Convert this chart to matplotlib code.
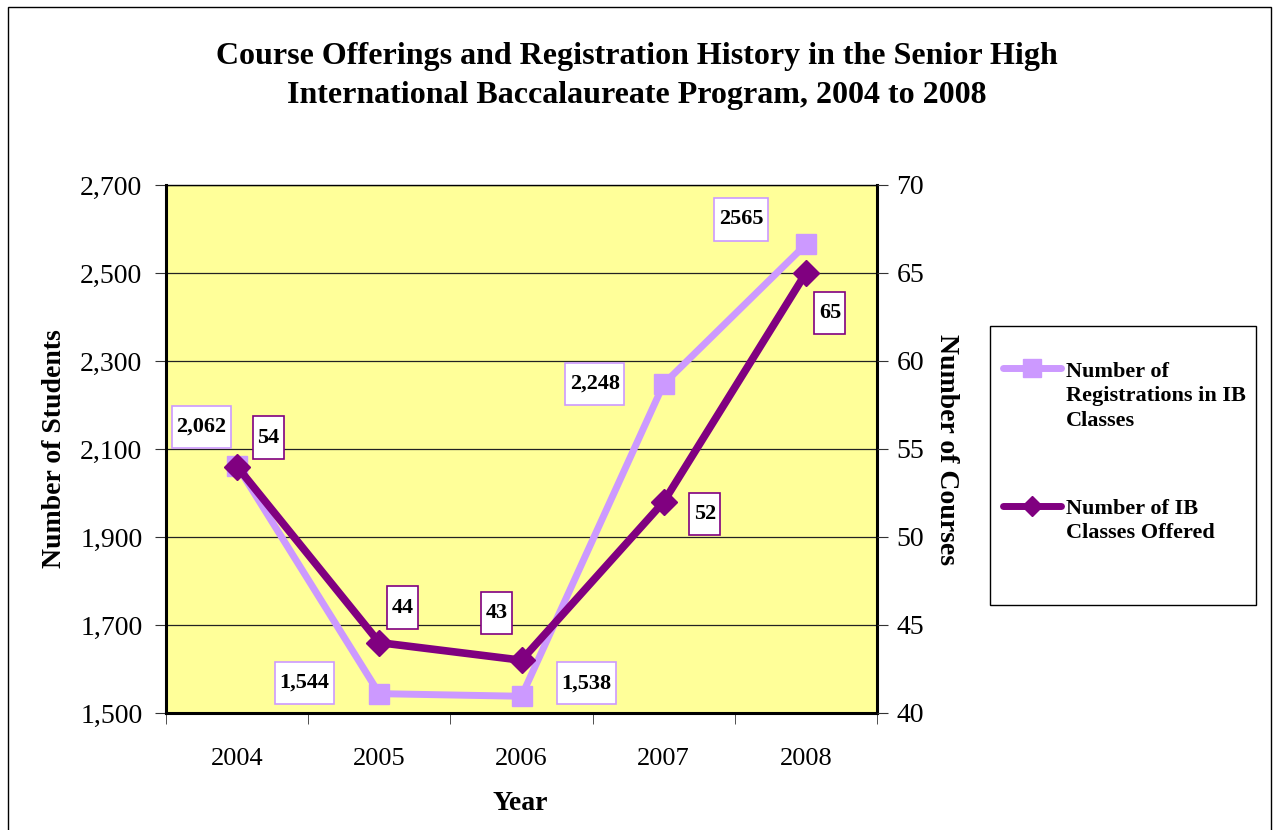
import matplotlib
matplotlib.use("Agg")
import matplotlib.pyplot as plt
from matplotlib.lines import Line2D
from matplotlib.patches import Rectangle
from matplotlib.path import Path
from matplotlib.ticker import FuncFormatter

plt.rcParams['font.family'] = ['Liberation Serif', 'DejaVu Serif']

years = ['2004', '2005', '2006', '2007', '2008']
registrations = [2062, 1544, 1538, 2248, 2565]
reg_labels = ['2,062', '1,544', '1,538', '2,248', '2565']
classes = [54, 44, 43, 52, 65]
class_labels = ['54', '44', '43', '52', '65']
left_ticks = [1500, 1700, 1900, 2100, 2300, 2500, 2700]
right_ticks = [40, 45, 50, 55, 60, 65, 70]

title = ('Course Offerings and Registration History in the Senior High\n'
         'International Baccalaureate Program, 2004 to 2008')
reg_name = 'Number of\nRegistrations in IB\nClasses'
class_name = 'Number of IB\nClasses Offered'

reg_color = '#CC99FF'
class_color = '#800080'

W, H = 1273, 830
fig = plt.figure(figsize=(W / 100, H / 100), dpi=100)
fig.patch.set_facecolor('white')


def px(xp, yp):
    return xp / W, 1 - yp / H


# outer frame
fig.patches.append(Rectangle((8 / W, -0.02), (1271 - 8) / W, 1 - 7 / H + 0.02,
                             transform=fig.transFigure, fill=False,
                             edgecolor='black', lw=1.0))

ax = fig.add_axes([166 / W, 1 - 713 / H, (877 - 166) / W, (713 - 185) / H])
ax.set_facecolor('#FFFF99')
x = list(range(len(years)))

ax.set_xlim(-0.5, len(years) - 0.5)
ax.set_ylim(left_ticks[0], left_ticks[-1])
ax.set_yticks(left_ticks)
ax.yaxis.set_major_formatter(FuncFormatter(lambda v, p: f'{int(v):,}'))
ax.grid(axis='y', color='#222222', lw=0.9)
ax.set_axisbelow(True)

ax.set_xticks(x)
ax.set_xticklabels(years, fontsize=19)
ax.set_xticks([i - 0.5 for i in range(len(years) + 1)], minor=True)
ax.tick_params(axis='x', which='major', length=0, pad=25)
ax.tick_params(axis='x', which='minor', length=8, direction='out', color='#333333')
ax.tick_params(axis='y', labelsize=20, length=8, direction='out', color='#333333', pad=9)

for s in ['left', 'bottom', 'right']:
    ax.spines[s].set_linewidth(2.2)
    ax.spines[s].set_color('black')
ax.spines['top'].set_linewidth(1.0)

ax.plot(x, registrations, color=reg_color, lw=5, marker='s', markersize=15,
        markerfacecolor=reg_color, markeredgecolor=reg_color, zorder=3)

ax2 = ax.twinx()
ax2.set_ylim(right_ticks[0], right_ticks[-1])
ax2.set_yticks(right_ticks)
ax2.tick_params(axis='y', labelsize=20, length=8, direction='out', color='#333333', pad=6)
for s in ax2.spines.values():
    s.set_visible(False)
ax2.plot(x, classes, color=class_color, lw=5.5, marker='D', markersize=13,
         markerfacecolor=class_color, markeredgecolor=class_color, zorder=3)


def label_box(x0, y0, width, height, mutation_size):
    padx = 0.2 * mutation_size
    pady = 0.5 * mutation_size
    a, b = x0 - padx, y0 - pady
    c, d = x0 + width + padx, y0 + height + pady
    return Path([(a, b), (c, b), (c, d), (a, d), (a, b)], closed=True)


reg_off = [(-36, 39), (-75, 11), (65, 13), (-69, 0), (-65, 25)]
class_off = [(31, 29), (23, 35), (-25, 47), (41, -12), (24, -40)]

for xi, v, lab, off in zip(x, registrations, reg_labels, reg_off):
    ax.annotate(lab, (xi, v), xytext=off, textcoords='offset pixels',
                ha='center', va='center', fontsize=16, fontweight='bold',
                bbox=dict(boxstyle=label_box, fc='white', ec=reg_color, lw=1.2),
                zorder=5)
for xi, v, lab, off in zip(x, classes, class_labels, class_off):
    ax2.annotate(lab, (xi, v), xytext=off, textcoords='offset pixels',
                 ha='center', va='center', fontsize=16, fontweight='bold',
                 bbox=dict(boxstyle=label_box, fc='white', ec=class_color, lw=1.2),
                 zorder=5)

fig.text(*px(637, 76), title, ha='center', va='center', fontsize=23,
         fontweight='bold', linespacing=1.42)
fig.text(*px(55, 449), 'Number of Students', rotation=90, ha='center', va='center',
         fontsize=20, fontweight='bold')
fig.text(*px(947, 449), 'Number of Courses', rotation=-90, ha='center', va='center',
         fontsize=20, fontweight='bold')
fig.text(*px(520, 803), 'Year', ha='center', va='center', fontsize=20,
         fontweight='bold')

# legend (drawn by hand to match the layout)
fig.patches.append(Rectangle(px(990, 605), (1256 - 990) / W, (605 - 326) / H,
                             transform=fig.transFigure, fill=True, facecolor='white',
                             edgecolor='black', lw=1.0))
for yy, col, mk, ms, name, ty in [(368, reg_color, 's', 13, reg_name, 396),
                                   (506, class_color, 'D', 10, class_name, 521)]:
    fig.lines.append(Line2D([1003 / W, 1032 / W, 1061 / W], [1 - yy / H] * 3,
                            transform=fig.transFigure, color=col, lw=5,
                            marker=mk, markersize=ms, markevery=[1],
                            solid_capstyle='round'))
    fig.text(*px(1066, ty), name, ha='left', va='center', fontsize=16,
             fontweight='bold', linespacing=1.3)

fig.savefig('out.png', dpi=100)
